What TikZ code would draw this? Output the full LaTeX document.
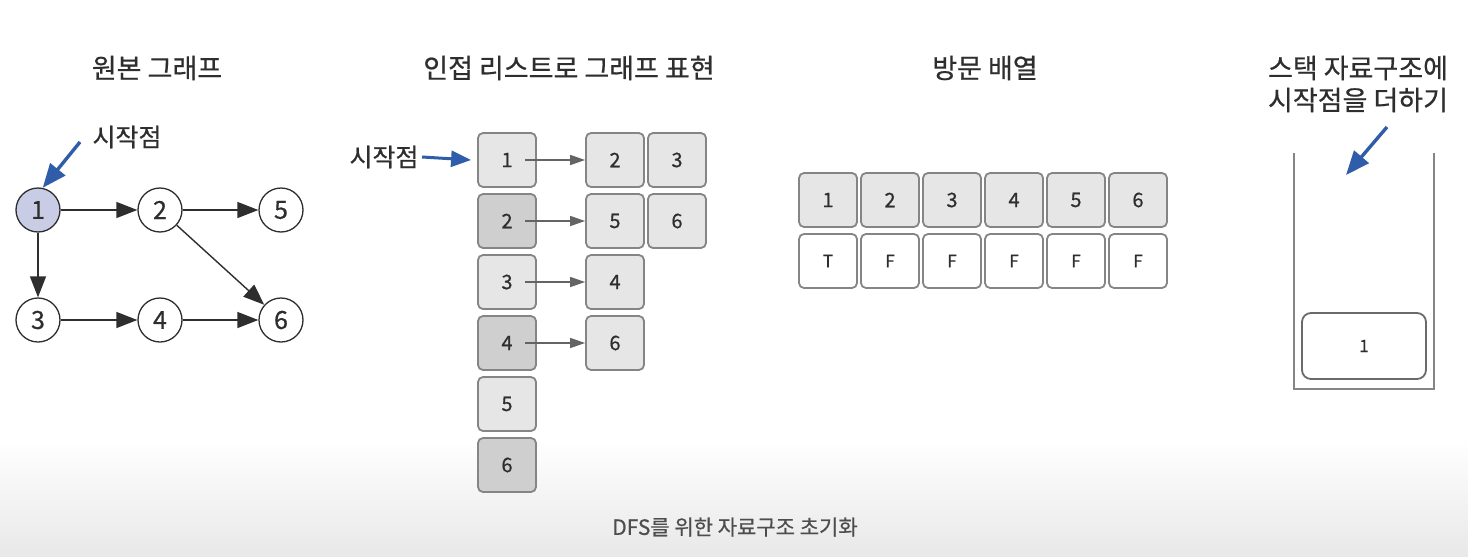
\documentclass[tikz,border=0pt]{standalone}
\usepackage{fontspec}
\setmainfont{Noto Sans CJK KR}[FakeBold=0.6]
\usetikzlibrary{arrows.meta}
\definecolor{stblue}{HTML}{2F5DAA}
\definecolor{stlav}{HTML}{C9CCE5}
\definecolor{stgrayA}{HTML}{E6E6E6}
\definecolor{stgrayB}{HTML}{CFCFCF}
\definecolor{stedge}{HTML}{858585}
\definecolor{sttext}{HTML}{2E2E2E}

\begin{document}
\begin{tikzpicture}[x=1pt, y=-1pt,
    vtx/.style={circle, draw=sttext, line width=1.3pt, fill=white, minimum size=44pt, inner sep=0, font=\fontsize{25}{27}\selectfont, text=sttext},
    cell/.style={rectangle, rounded corners=5pt, draw=stedge, line width=1.8pt, minimum width=58pt, minimum height=54pt, inner sep=0, font=\fontsize{20}{22}\selectfont, text=sttext},
    ttl/.style={font=\fontsize{27}{32}\selectfont, text=sttext, align=center},
    lbl/.style={font=\fontsize{25}{27}\selectfont, text=sttext},
    gedge/.style={line width=1.4pt, draw=sttext, -{Triangle[length=21pt, width=16pt]}},
    ledge/.style={line width=1.6pt, draw=stedge!75!black, -{Triangle[length=15pt, width=10pt]}},
    bluearr/.style={line width=3.4pt, draw=stblue, -{Triangle[length=24pt, width=19pt]}}]
  \useasboundingbox (0,0) rectangle (1468,557);
  \shade[top color=white, bottom color=black!9] (0,440) rectangle (1468,557);

  % titles
  \node[ttl] (t1) at (157,68) {원본 그래프};
  \node[ttl] (t2) at (569,68) {인접 리스트로 그래프 표현};
  \node[ttl] (t3) at (985,68) {방문 배열};
  \node[ttl] (t4) at (1358,84) {스택 자료구조에\\시작점을 더하기};

  % original graph
  \node[vtx, fill=stlav] (V1) at (38,210)  {1};
  \node[vtx] (V2) at (160,210) {2};
  \node[vtx] (V5) at (281,210) {5};
  \node[vtx] (V3) at (38,320)  {3};
  \node[vtx] (V4) at (160,320) {4};
  \node[vtx] (V6) at (281,320) {6};
  \draw[gedge] (V1) -- (V2);
  \draw[gedge] (V2) -- (V5);
  \draw[gedge] (V1) -- (V3);
  \draw[gedge] (V3) -- (V4);
  \draw[gedge] (V4) -- (V6);
  \draw[gedge] (V2) -- (V6);
  \node[lbl] (s1) at (127,137) {시작점};
  \coordinate (s1a) at (80,142);
  \draw[bluearr] (s1a) -- (V1.78);

  % adjacency list
  \foreach \i/\y in {1/160,2/221,3/282,4/343,5/404,6/465}{
    \pgfmathsetmacro{\shd}{mod(\i,2)==1 ? "stgrayA" : "stgrayB"}
    \node[cell, fill=\shd] (L\i) at (507,\y) {\i};
  }
  \node[cell, fill=stgrayA] (A12) at (615,160) {2};
  \node[cell, fill=stgrayA] (A13) at (677,160) {3};
  \node[cell, fill=stgrayA] (A25) at (615,221) {5};
  \node[cell, fill=stgrayA] (A26) at (677,221) {6};
  \node[cell, fill=stgrayA] (A34) at (615,282) {4};
  \node[cell, fill=stgrayA] (A46) at (615,343) {6};
  \draw[ledge] ([xshift=18pt]L1.center) -- (A12);
  \draw[ledge] ([xshift=18pt]L2.center) -- (A25);
  \draw[ledge] ([xshift=18pt]L3.center) -- (A34);
  \draw[ledge] ([xshift=18pt]L4.center) -- (A46);
  \node[lbl] (s2) at (384,157) {시작점};
  \draw[bluearr, line width=3pt, -{Triangle[length=20pt, width=16pt]}] (s2.east) -- ([xshift=-6pt]L1.west);

  % visited array
  \foreach \i/\x/\v in {1/828/T,2/890/F,3/952/F,4/1014/F,5/1076/F,6/1138/F}{
    \node[cell, fill=stgrayA] (N\i) at (\x,200) {\i};
    \node[cell, fill=white, font=\fontsize{17}{19}\selectfont] (B\i) at (\x,261) {\v};
  }

  % stack
  \draw[stedge, line width=1.8pt] (1294,153) -- (1294,389) -- (1434,389) -- (1434,153);
  \node[cell, fill=white, minimum width=124pt, minimum height=66pt, rounded corners=9pt, draw=stedge!80!black, font=\fontsize{17}{19}\selectfont] (S1) at (1364,346) {1};
  \coordinate (s4a) at (1387,127);
  \coordinate (s4b) at (1346,175);
  \draw[bluearr] (s4a) -- (s4b);

  % caption
  \node[font=\fontsize{21}{24}\selectfont, text=sttext!85] (cap) at (735,527) {DFS를 위한 자료구조 초기화};
\end{tikzpicture}
\end{document}
